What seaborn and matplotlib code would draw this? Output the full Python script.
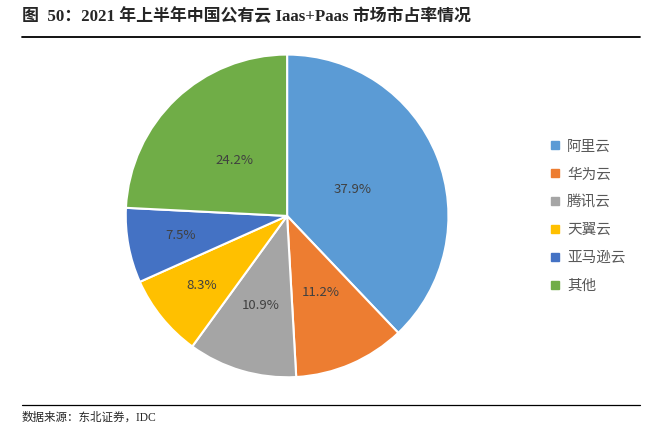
import numpy as np
import seaborn as sns
import matplotlib
matplotlib.use("Agg")
import matplotlib.pyplot as plt
from matplotlib.lines import Line2D

# 数据：2021年上半年中国公有云 IaaS+PaaS 市占率
vendors = ['阿里云', '华为云', '腾讯云', '天翼云', '亚马逊云', '其他']
shares = [37.9, 11.2, 10.9, 8.3, 7.5, 24.2]
colors = ['#5B9BD5', '#ED7D31', '#A5A5A5', '#FFC000', '#4472C4', '#70AD47']
label_radius = [0.44, 0.52, 0.58, 0.68, 0.67, 0.47]

sns.set_theme(style='white')
sns.set_palette(colors)
plt.rcParams['font.family'] = ['Noto Sans CJK SC', 'DejaVu Sans']

fig = plt.figure(figsize=(6.6, 4.34), dpi=100)
ax = fig.add_axes([0.188, 0.127, 0.494, 0.751])

wedges, texts, autotexts = ax.pie(
    shares, colors=sns.color_palette(), startangle=90, counterclock=False,
    autopct='%.1f%%', pctdistance=0.5, radius=1,
    wedgeprops=dict(edgecolor='white', linewidth=1.5),
    textprops=dict(color='#404040', fontsize=9.5))

# 标签位置按 Excel 的样子微调
for t, r in zip(autotexts, label_radius):
    x, y = t.get_position()
    d = np.hypot(x, y)
    t.set_position((x / d * r, y / d * r))

ax.set_xlim(-1.01, 1.01)
ax.set_ylim(-1.01, 1.01)
ax.set_aspect('equal')

handles = [Line2D([0], [0], marker='s', linestyle='', markersize=5.5,
                  markerfacecolor=c, markeredgecolor=c) for c in colors]
leg = fig.legend(handles, vendors, loc='center left', bbox_to_anchor=(0.815, 0.502),
                 frameon=False, fontsize=10.5, labelspacing=0.95,
                 handlelength=0.6, handletextpad=0.5, labelcolor='#595959')

# 标题和来源
fig.text(0.033, 0.962, '图  50：2021 年上半年中国公有云 Iaas+Paas 市场市占率情况',
         fontsize=12.2, fontweight='bold', va='center', ha='left',
         family=['Liberation Serif', 'Noto Sans CJK SC'])
fig.add_artist(Line2D([0.033, 0.970], [0.915, 0.915], color='black', linewidth=1.3))
fig.add_artist(Line2D([0.033, 0.970], [0.067, 0.067], color='black', linewidth=0.9))
fig.text(0.033, 0.037, '数据来源：东北证券，IDC', fontsize=8.3, va='center', ha='left',
         family=['Liberation Serif', 'Noto Sans CJK SC'])

fig.savefig('out.png', dpi=100, facecolor='white')
